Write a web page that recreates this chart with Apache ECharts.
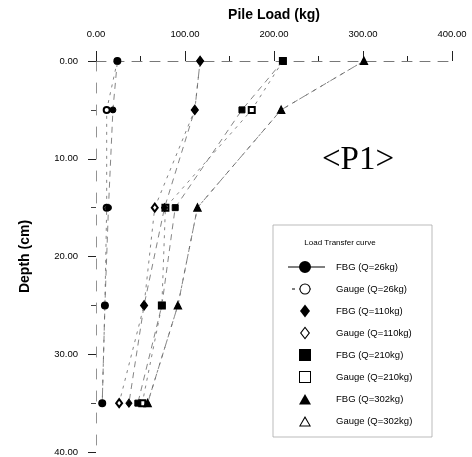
<!DOCTYPE html>
<html><head><meta charset="utf-8">
<script src="https://cdn.jsdelivr.net/npm/echarts@6/dist/echarts.min.js"></script>
<style>html,body{margin:0;padding:0;background:#fff}#c{width:472px;height:457px}</style>
</head><body><div id="c"></div>
<script>
const depths = [0, 5, 15, 25, 35];
const fbg26 = [24, 19, 14, 10, 7];
const gauge26 = [24, 12, 12, 10, 7];
const fbg110 = [117, 111, 77, 54, 37];
const gauge110 = [117, 111, 66, 54, 26];
const fbg210 = [210, 164, 89, 74, 47];
const gauge210 = [210, 175, 78, 74, 52];
const fbg302 = [301, 208, 114, 92, 58];
const gauge302 = [301, 208, 114, 92, 58];
const xTicks = [0, 100, 200, 300, 400];
const yTicks = [0, 10, 20, 30, 40];
const names = ['FBG (Q=26kg)', 'Gauge (Q=26kg)', 'FBG (Q=110kg)', 'Gauge (Q=110kg)',
  'FBG (Q=210kg)', 'Gauge (Q=210kg)', 'FBG (Q=302kg)', 'Gauge (Q=302kg)'];
const valuesList = [fbg26, gauge26, fbg110, gauge110, fbg210, gauge210, fbg302, gauge302];
const symbols = ['circle', 'emptyCircle', 'diamond', 'emptyDiamond', 'rect', 'emptyRect', 'triangle', 'emptyTriangle'];

const chart = echarts.init(document.getElementById('c'), null, {renderer: 'canvas'});
const font = 'Liberation Sans, Arial, sans-serif';
const series = valuesList.map((vals, i) => {
  const isGauge = i % 2 === 1;
  return {
    name: names[i],
    type: 'line',
    data: vals.map((v, k) => [v, depths[k]]),
    symbol: symbols[i],
    symbolSize: symbols[i].indexOf('iamond') >= 0 ? [6, 8] : 6,
    z: isGauge ? 2 : 3,
    itemStyle: {color: '#000', borderColor: '#000', borderWidth: 1},
    lineStyle: {color: '#666', width: 0.8, type: isGauge ? [3, 5] : [6, 5]},
    emphasis: {disabled: true},
    animation: false
  };
});

// legend icons drawn in a fixed 40x14 box so they keep their shape
const box = 'M0,0 M40,14 ';
const icons = [
  box + 'M3,6.6 L40,6.6 L40,7.4 L3,7.4 Z M20,1 A6,6 0 1 1 19.99,1 Z',
  box + 'M7,6.6 L10,6.6 L10,7.4 L7,7.4 Z M14,6.6 L15,6.6 L15,7.4 L14,7.4 Z M25,6.6 L26,6.6 L26,7.4 L25,7.4 Z M20,1.5 A5.5,5.5 0 1 1 19.99,1.5 Z M20,2.5 A4.5,4.5 0 1 0 20.01,2.5 Z',
  box + 'M20,0.5 L25,7 L20,13.5 L15,7 Z',
  box + 'M20,0.5 L25,7 L20,13.5 L15,7 Z M20,2.3 L16.4,7 L20,11.7 L23.6,7 Z',
  box + 'M14,1 L26,1 L26,13 L14,13 Z',
  box + 'M14,1 L26,1 L26,13 L14,13 Z M15,2 L15,12 L25,12 L25,2 Z',
  box + 'M20,2 L26,12.5 L14,12.5 Z',
  box + 'M20,2 L26,12.5 L14,12.5 Z M20,4.2 L15.7,11.6 L24.3,11.6 Z'
];
const legendData = names.map((n, i) => ({name: n, icon: 'path://' + icons[i]}));

chart.setOption({
  backgroundColor: '#fff',
  animation: false,
  grid: {left: 96, right: 20, top: 61, bottom: 5, containLabel: false},
  xAxis: {
    type: 'value', position: 'top', min: 0, max: 400, interval: 100,
    name: 'Pile Load (kg)', nameLocation: 'middle', nameGap: 39,
    nameTextStyle: {fontFamily: font, fontWeight: 'bold', fontSize: 14, color: '#000'},
    axisLine: {show: true, lineStyle: {color: '#555', width: 0.8, type: [10, 8]}},
    axisTick: {show: true, inside: false, length: 10, lineStyle: {color: '#222', width: 1}},
    minorTick: {show: true, splitNumber: 2, length: 5, lineStyle: {color: '#222', width: 1}},
    axisLabel: {margin: 22, fontSize: 9.5, fontFamily: font, color: '#000',
      formatter: v => xTicks.indexOf(v) >= 0 ? v.toFixed(2) : ''},
    splitLine: {show: false}
  },
  yAxis: {
    type: 'value', inverse: true, min: 0, max: 40, interval: 10,
    name: 'Depth (cm)', nameLocation: 'middle', nameGap: 64, nameRotate: 90,
    nameTextStyle: {fontFamily: font, fontWeight: 'bold', fontSize: 14, color: '#000'},
    axisLine: {show: true, lineStyle: {color: '#777', width: 0.8, type: [10, 12]}},
    axisTick: {show: true, inside: false, length: 8, lineStyle: {color: '#222', width: 1}},
    minorTick: {show: true, splitNumber: 2, length: 5, lineStyle: {color: '#444', width: 1}},
    axisLabel: {margin: 18, fontSize: 9.5, fontFamily: font, color: '#000',
      formatter: v => yTicks.indexOf(v) >= 0 ? v.toFixed(2) : ''},
    splitLine: {show: false}
  },
  legend: {
    orient: 'vertical', left: 285, top: 260, padding: 0,
    itemWidth: 40, itemHeight: 14, itemGap: 8,
    itemStyle: {color: '#000', borderWidth: 0},
    data: legendData,
    textStyle: {fontFamily: font, fontSize: 9.5, color: '#000', padding: [0, 0, 0, 6]},
    selectedMode: false
  },
  graphic: [
    {type: 'rect', shape: {x: 273, y: 225, width: 159, height: 212},
      style: {fill: 'none', stroke: '#aaa', lineWidth: 0.8}, z: 1},
    {type: 'text', x: 340, y: 243, style: {text: 'Load Transfer curve', fontFamily: font, fontSize: 8,
      fill: '#000', textAlign: 'center', textVerticalAlign: 'middle'}},
    {type: 'text', x: 358, y: 160, style: {text: '<P1>', fontFamily: 'Liberation Serif, Times New Roman, serif',
      fontSize: 33, fill: '#000', textAlign: 'center', textVerticalAlign: 'middle'}}
  ],
  series: series
});
</script></body></html>
